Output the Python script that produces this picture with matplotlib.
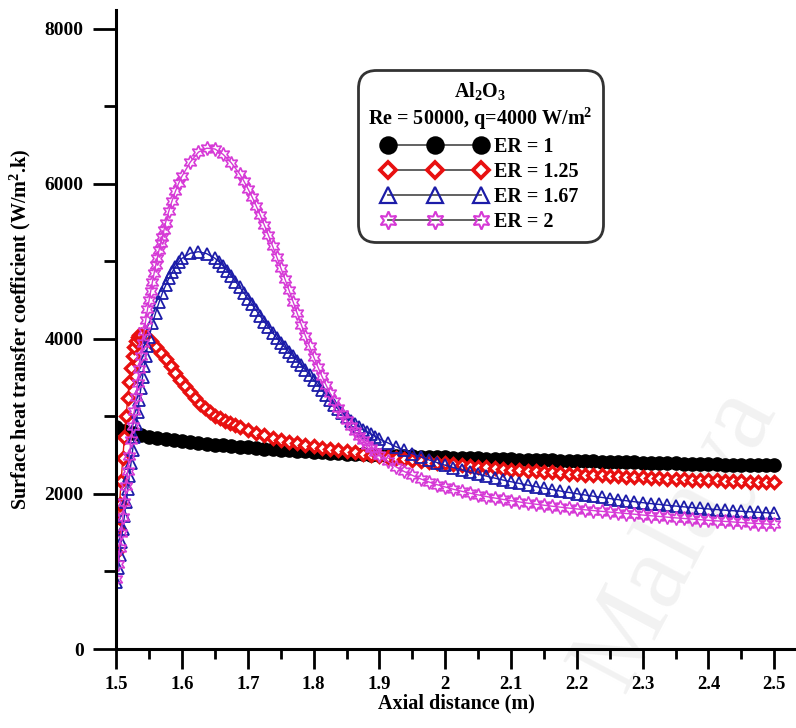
import numpy as np
import matplotlib
matplotlib.use('Agg')
import matplotlib.pyplot as plt
from matplotlib.lines import Line2D
from matplotlib.ticker import MultipleLocator

plt.rcParams['font.family'] = ['Liberation Serif', 'DejaVu Serif']
plt.rcParams['font.weight'] = 'bold'
plt.rcParams['mathtext.fontset'] = 'custom'
plt.rcParams['mathtext.rm'] = 'Liberation Serif:bold'
plt.rcParams['mathtext.bf'] = 'Liberation Serif:bold'
plt.rcParams['mathtext.default'] = 'bf'

# sample positions along the axis (denser where the curves are steep)
x_er1 = np.linspace(1.5, 2.5, 81)
x_er125 = np.concatenate([np.linspace(1.5, 1.535, 15), 1.5375 + 0.0075 * np.arange(20),
                          np.linspace(1.6875, 2.5, 66)])
x_er167 = np.concatenate([np.linspace(1.5, 1.55, 21), np.linspace(1.555, 1.595, 9),
                          [1.6, 1.6125, 1.625, 1.6375],
                          np.linspace(1.65, 1.89375, 40), np.linspace(1.9, 2.5, 49)])
x_er2 = np.concatenate([np.linspace(1.5, 1.5725, 30), np.linspace(1.575, 1.595, 5),
                        np.linspace(1.6, 1.675, 7),
                        np.linspace(1.6875, 1.89375, 34), np.linspace(1.9, 2.5, 49)])

h_er1 = [2870, 2810, 2780, 2755,
         2735, 2720, 2705, 2692, 2680, 2668, 2657, 2646, 2636, 2626,
         2617, 2608, 2600, 2592, 2584, 2577, 2570, 2563, 2556, 2549,
         2543, 2537, 2531, 2525, 2520, 2515, 2510, 2505, 2500, 2496,
         2492, 2488, 2484, 2480, 2477, 2474, 2471, 2468, 2465, 2462,
         2459, 2456, 2453, 2450, 2447, 2444, 2441, 2438, 2435, 2432,
         2430, 2427, 2424, 2421, 2419, 2416, 2413, 2411, 2408, 2406,
         2403, 2401, 2398, 2396, 2394, 2391, 2389, 2387, 2385, 2382,
         2380, 2378, 2376, 2374, 2372, 2370, 2368]

h_er125 = [1250, 1560, 1870, 2170, 2460, 2740, 3000, 3240, 3450, 3630,
           3780, 3890, 3970, 4020, 4045,
           4050, 4030, 3975, 3900, 3820, 3740, 3650, 3560, 3470, 3390,
           3310, 3235, 3165, 3105, 3055, 3010, 2975, 2945, 2915, 2885,
           2860, 2820, 2785, 2755, 2725, 2700, 2675, 2655, 2635,
           2615, 2598, 2582, 2566, 2550, 2535, 2521, 2507, 2493, 2480,
           2467, 2454, 2441, 2429, 2417, 2405, 2394, 2383, 2372, 2362,
           2352, 2342, 2333, 2324, 2315, 2307, 2299, 2291, 2284, 2277,
           2270, 2263, 2257, 2251, 2245, 2239, 2233, 2228, 2223, 2218,
           2213, 2208, 2203, 2199, 2194, 2190, 2186, 2182, 2178, 2174,
           2170, 2166, 2162, 2158, 2155, 2151, 2148]

h_er167 = [870, 1040, 1210, 1380, 1550, 1720, 1890, 2060, 2230, 2400,
           2570, 2735, 2900, 3060, 3215, 3365, 3510, 3650, 3780, 3905,
           4020,
           4200, 4340, 4470, 4590, 4690, 4780, 4860, 4930, 4990,
           5040, 5105, 5125, 5100,
           5040, 4995, 4940, 4878, 4810, 4740, 4670, 4595, 4520, 4445,
           4370, 4295, 4220, 4150, 4080, 4015, 3950, 3890, 3830, 3775,
           3720, 3660, 3600, 3535, 3470, 3405, 3340, 3275, 3210, 3150,
           3090, 3038, 2990, 2945, 2900, 2865, 2830, 2800, 2770, 2740,
           2710, 2660,
           2610, 2565, 2520, 2480, 2440, 2405, 2370, 2340, 2310, 2280,
           2255, 2230, 2205, 2180, 2158, 2136, 2115, 2095, 2075, 2056,
           2038, 2020, 2003, 1987, 1971, 1956, 1941, 1927, 1913, 1900,
           1888, 1876, 1865, 1854, 1844, 1834, 1825, 1816, 1807, 1799,
           1791, 1784, 1777, 1770, 1764, 1758, 1752]

h_er2 = [900, 1100, 1300, 1500, 1700, 1900, 2100, 2300, 2495, 2690,
         2880, 3070, 3255, 3435, 3610, 3780, 3945, 4100, 4250, 4380,
         4500, 4620, 4735, 4845, 4950, 5050, 5145, 5235, 5320, 5400,
         5500, 5650, 5785, 5905, 6010,
         6100, 6280, 6410, 6460, 6450, 6380, 6270,
         6130, 6040, 5940, 5835, 5720, 5598, 5470, 5337, 5200, 5062,
         4920, 4776, 4630, 4480, 4330, 4183, 4040, 3903, 3770, 3642,
         3520, 3407, 3300, 3202, 3110, 3027, 2950, 2878, 2810, 2748,
         2690, 2638, 2590, 2544,
         2500, 2420,
         2350, 2290, 2240, 2195, 2155, 2120, 2090, 2060, 2035, 2010,
         1988, 1967, 1948, 1930, 1913, 1897, 1882, 1868, 1855, 1842,
         1830, 1818, 1807, 1796, 1786, 1776, 1766, 1757, 1748, 1739,
         1728, 1719, 1710, 1701, 1692, 1684, 1676, 1668, 1660, 1653,
         1646, 1639, 1632, 1625, 1619, 1613, 1607]

labels = ['ER = 1', 'ER = 1.25', 'ER = 1.67', 'ER = 2']
xs = [x_er1, x_er125, x_er167, x_er2]
hs = [h_er1, h_er125, h_er167, h_er2]

fig = plt.figure(figsize=(7.96, 7.28), dpi=100)
fig.text(0.85, 0.26, 'Malaya', fontsize=78, color='#f2f2f2', rotation=62,
         ha='center', va='center', zorder=-5, fontweight='normal')
ax = fig.add_axes([0.146, 0.1085, 0.854, 0.878])
ax.set_facecolor('none')

star6 = (6, 1, 0)
styles = [
    dict(color='black', marker='o', ms=9.5, mfc='black', mec='black', mew=1),
    dict(color='#e81010', marker='D', ms=6, mfc='white', mec='#e81010', mew=2.4),
    dict(color='#1c1ca8', marker='^', ms=9, mfc='none', mec='#1c1ca8', mew=1.3),
    dict(color='#d63ad6', marker=star6, ms=10, mfc='none', mec='#d63ad6', mew=1.2),
]
for x, h, st in zip(xs, hs, styles):
    ax.plot(x, h, lw=1, **st)

ax.set_xlim(1.5, 2.533)
ax.set_ylim(0, 8245)
ax.xaxis.set_minor_locator(MultipleLocator(0.05))
ax.yaxis.set_major_locator(MultipleLocator(2000))
ax.yaxis.set_minor_locator(MultipleLocator(1000))
ax.set_xticks(np.round(np.arange(1.5, 2.51, 0.1), 1))
ax.set_xticklabels(['1.5', '1.6', '1.7', '1.8', '1.9', '2', '2.1', '2.2', '2.3', '2.4', '2.5'])

for s in ['top', 'right']:
    ax.spines[s].set_visible(False)
for s in ['left', 'bottom']:
    ax.spines[s].set_linewidth(2.2)

ax.tick_params(axis='y', which='major', direction='out', length=16.5, width=2, labelsize=14, pad=7)
ax.tick_params(axis='y', which='minor', direction='out', length=9, width=2)
ax.tick_params(axis='x', which='major', direction='out', length=14.5, width=2, labelsize=13.5, pad=5)
ax.tick_params(axis='x', which='minor', direction='out', length=7, width=2)

ax.set_xlabel('Axial distance (m)', fontsize=14.5, fontweight='bold', labelpad=0)
ax.set_ylabel('Surface heat transfer coefficient (W/m$^2$.k)', fontsize=14.5,
              fontweight='bold', labelpad=8)

leg_ms = [12, 8, 11, 13]
handles = [Line2D([], [], color='#555555', lw=1.3, marker=st['marker'], ms=m,
                  mfc=st['mfc'], mec=st['mec'], mew=st['mew'] + 0.3)
           for st, m in zip(styles, leg_ms)]
leg = ax.legend(handles, labels, loc='upper left', bbox_to_anchor=(0.3706, 0.8905),
                borderaxespad=0, numpoints=3, handlelength=5.2, handletextpad=0.35,
                fontsize=14.5, frameon=True, fancybox=True,
                title='Al$_2$O$_3$\nRe = 50000, q=4000 W/m$^2$', title_fontsize=14.5,
                labelspacing=0.25, borderpad=0.0)
leg.get_frame().set_edgecolor('black')
leg.get_frame().set_linewidth(2)
leg.get_frame().set_boxstyle('round,pad=0.5,rounding_size=0.9')
plt.setp(leg.get_title(), fontweight='bold', multialignment='center')

fig.savefig('out.png', dpi=100)
